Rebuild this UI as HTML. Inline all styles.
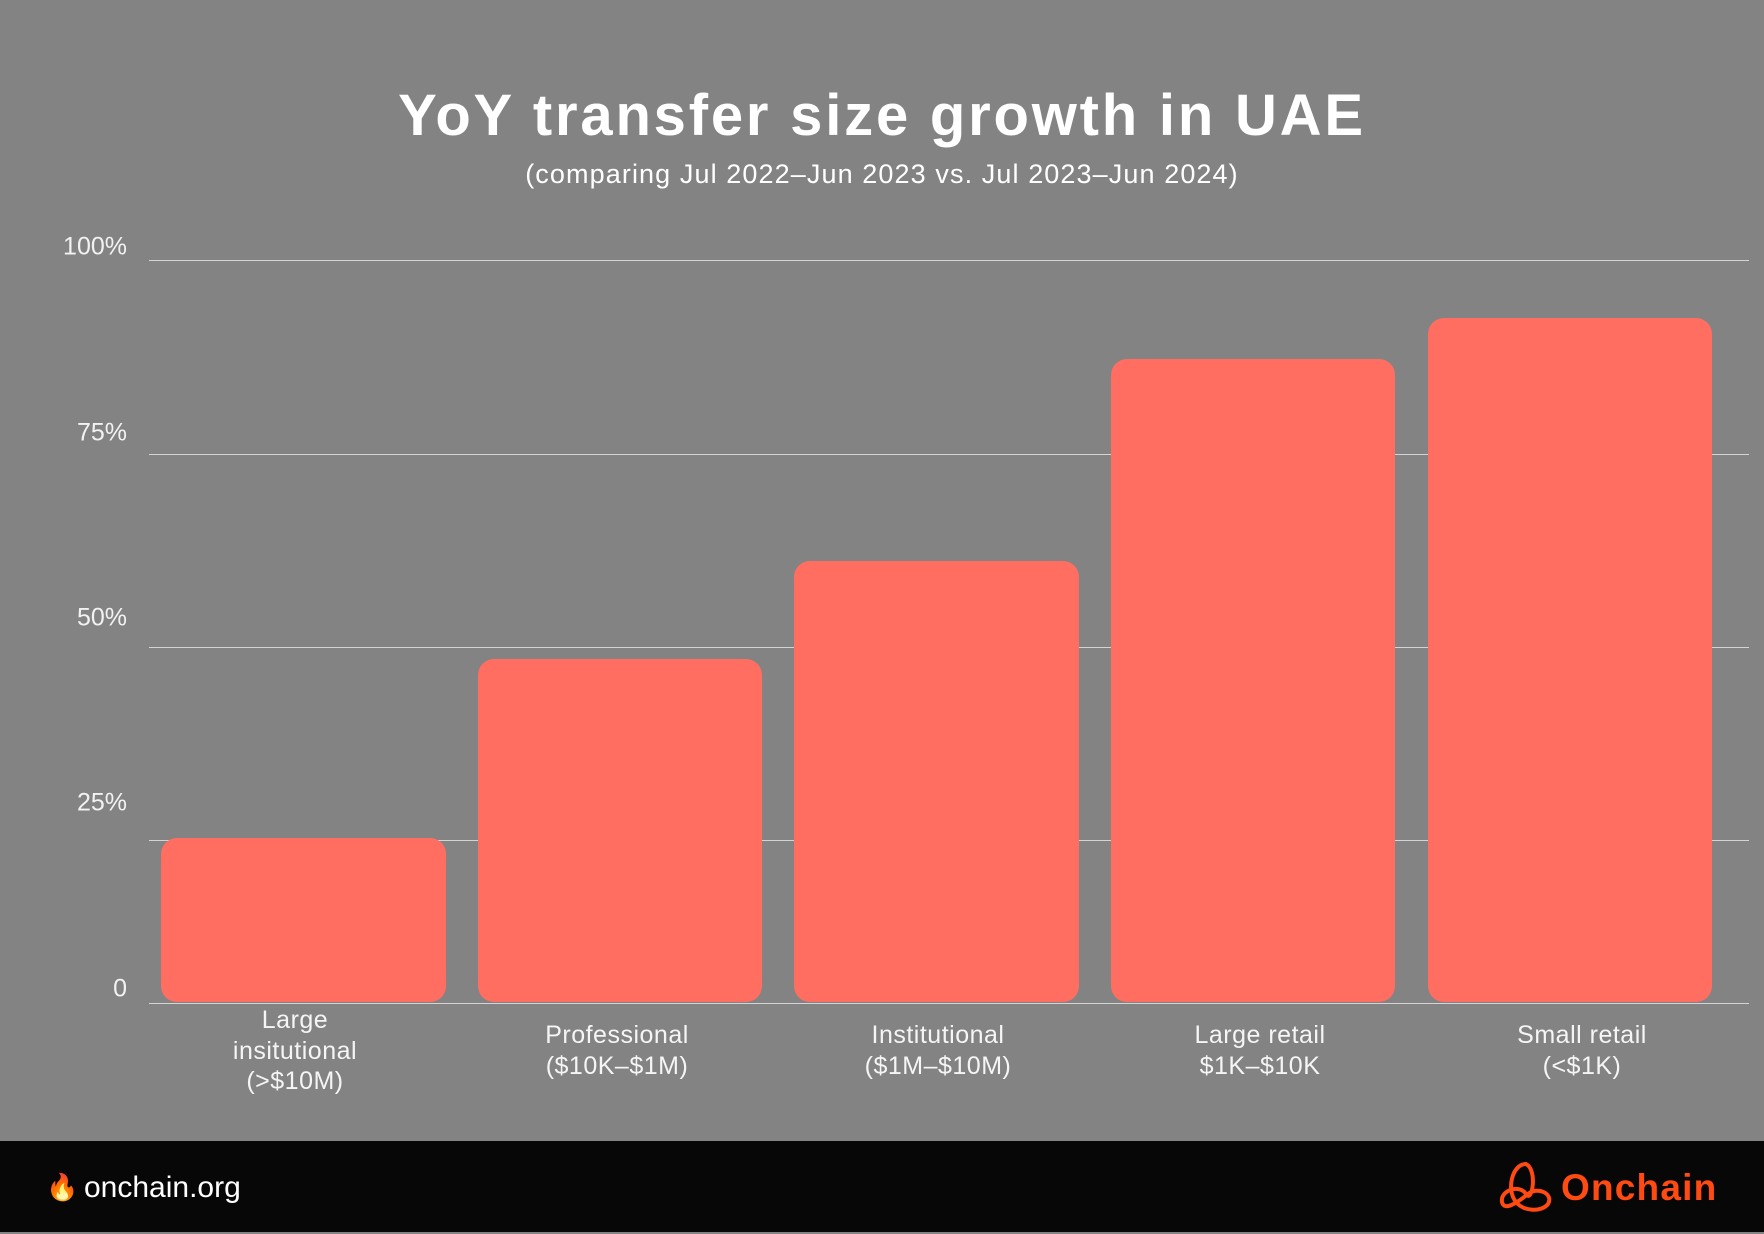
<!DOCTYPE html>
<html><head><meta charset="utf-8"><style>
body{margin:0;width:1764px;height:1234px;background:#838383;position:relative;overflow:hidden;font-family:"Liberation Sans",sans-serif;color:#fff}
.a{position:absolute}
.g{position:absolute;left:149px;width:1600px;height:1px;background:#d4d4d4}
.b{position:absolute;background:#ff6e61;border-radius:16px}
.y{position:absolute;right:1637px;font-size:25px;color:#f2f2f2;line-height:1;transform:translateY(-50%)}
.x{position:absolute;width:300px;text-align:center;font-size:25px;line-height:30.5px;color:#f5f5f5;letter-spacing:0.5px}
</style></head><body>
<div class="a" style="left:0;width:1764px;top:82px;text-align:center;font-size:58px;font-weight:bold;letter-spacing:2.8px">YoY transfer size growth in UAE</div>
<div class="a" style="left:0;width:1764px;top:159px;text-align:center;font-size:27px;letter-spacing:1.1px">(comparing Jul 2022–Jun 2023 vs. Jul 2023–Jun 2024)</div>
<div class="g" style="top:260px"></div>
<div class="g" style="top:454px"></div>
<div class="g" style="top:647px"></div>
<div class="g" style="top:840px"></div>
<div class="g" style="top:1003px"></div>
<div class="y" style="top:247px">100%</div>
<div class="y" style="top:433px">75%</div>
<div class="y" style="top:618px">50%</div>
<div class="y" style="top:803px">25%</div>
<div class="y" style="top:989px">0</div>
<div class="b" style="left:161px;width:285px;top:838px;height:164px"></div>
<div class="b" style="left:478px;width:284px;top:659px;height:343px"></div>
<div class="b" style="left:794px;width:285px;top:561px;height:441px"></div>
<div class="b" style="left:1111px;width:284px;top:359px;height:643px"></div>
<div class="b" style="left:1428px;width:284px;top:318px;height:684px"></div>
<div class="x" style="left:145px;top:1005px">Large<br>insitutional<br>(&gt;$10M)</div>
<div class="x" style="left:467px;top:1020px">Professional<br>($10K–$1M)</div>
<div class="x" style="left:788px;top:1020px">Institutional<br>($1M–$10M)</div>
<div class="x" style="left:1110px;top:1020px">Large retail<br>$1K–$10K</div>
<div class="x" style="left:1432px;top:1020px">Small retail<br>(&lt;$1K)</div>
<div class="a" style="left:0;top:1141px;width:1764px;height:91px;background:#070707"></div>
<div class="a" style="left:46px;top:1172px;font-size:26px">🔥</div>
<div class="a" style="left:84px;top:1171px;font-size:30px">onchain.org</div>
<svg class="a" style="left:1498px;top:1160px" width="58" height="56" viewBox="0 0 58 56"><g fill="none" stroke="#ff4a12" stroke-width="4"><path d="M28 4 C14 4 8 30 18 42 C26 52 44 52 50 44 C56 34 40 26 30 34 C20 42 6 52 4 42 C2 30 22 24 28 34 C34 44 40 10 28 4Z"/></g></svg>
<div class="a" style="left:1561px;top:1167px;font-size:37px;font-weight:bold;color:#ff4a12;letter-spacing:1.2px">Onchain</div>
</body></html>
